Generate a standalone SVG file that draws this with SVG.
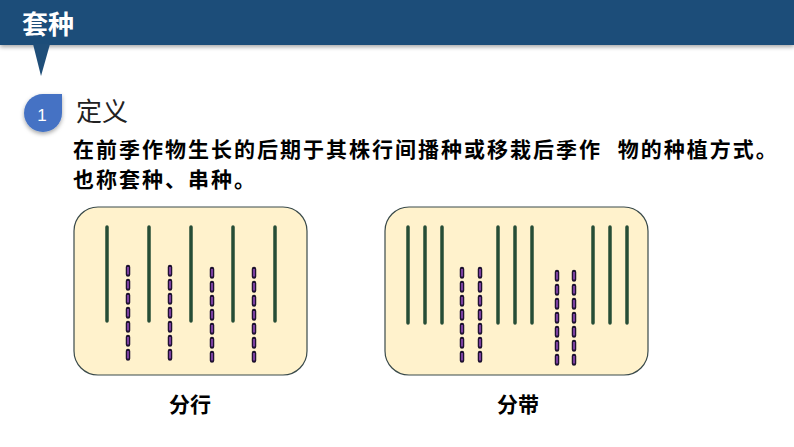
<svg xmlns="http://www.w3.org/2000/svg" width="794" height="447" viewBox="0 0 794 447">
<style>
.cn{font-family:"Liberation Sans","Noto Sans CJK SC",sans-serif}
.box{fill:#fff2cc;stroke:#3a4a4a;stroke-width:1.2}
.g{stroke:#264d36;stroke-width:3.5;stroke-linecap:round}
.d1{stroke:#1e1230;stroke-width:4.5;stroke-dasharray:7.5 6.5;stroke-linecap:round}
.d2{stroke:#7a3fa0;stroke-width:2;stroke-dasharray:7.5 6.5}
</style>
<defs><filter id="sh" x="-20%" y="-20%" width="140%" height="160%"><feDropShadow dx="0" dy="2" stdDeviation="2" flood-opacity="0.35"/></filter></defs>
<rect width="794" height="447" fill="#fff"/>
<g id="header">
<rect x="0" y="0" width="794" height="45" fill="#1f4e79" filter="url(#sh)"/>
<polygon points="33,44 50,44 41,76" fill="#1f4e79"/>
<text x="22" y="34" class="cn" font-size="26" font-weight="bold" fill="#fff">套种</text>
</g>
<g id="section">
<path d="M62,95 V113 A19,19 0 1 1 43,94 H62 Z" fill="#4472c4" filter="url(#sh)"/>
<text x="42" y="121" class="cn" font-size="17" fill="#fff" text-anchor="middle">1</text>
<text x="76" y="121" class="cn" font-size="26" fill="#222">定义</text>
<text x="73" y="157" class="cn" font-size="21" font-weight="bold" letter-spacing="2" fill="#000" xml:space="preserve">在前季作物生长的后期于其株行间播种或移栽后季作  物的种植方式。</text>
<text x="73" y="187" class="cn" font-size="21" font-weight="bold" letter-spacing="2" fill="#000">也称套种、串种。</text>
</g>
<g id="fenhang">
<rect class="box" x="74" y="207" width="233" height="168" rx="24"/>
<g class="g"><line x1="107" y1="227" x2="107" y2="321"/><line x1="149" y1="227" x2="149" y2="321"/><line x1="191" y1="227" x2="191" y2="321"/><line x1="233" y1="227" x2="233" y2="321"/><line x1="275" y1="227" x2="275" y2="321"/></g>
<g class="d1"><line x1="128" y1="267" x2="128" y2="361"/><line x1="170" y1="267" x2="170" y2="361"/><line x1="212" y1="269" x2="212" y2="363"/><line x1="254" y1="269" x2="254" y2="363"/></g>
<g class="d2"><line x1="128" y1="267" x2="128" y2="361"/><line x1="170" y1="267" x2="170" y2="361"/><line x1="212" y1="269" x2="212" y2="363"/><line x1="254" y1="269" x2="254" y2="363"/></g>
<text x="190" y="412" class="cn" font-size="21" font-weight="bold" text-anchor="middle">分行</text>
</g>
<g id="fendai">
<rect class="box" x="385" y="207" width="263" height="168" rx="24"/>
<g class="g"><line x1="408" y1="227" x2="408" y2="323"/><line x1="425" y1="227" x2="425" y2="323"/><line x1="442" y1="227" x2="442" y2="323"/><line x1="498" y1="227" x2="498" y2="323"/><line x1="515" y1="227" x2="515" y2="323"/><line x1="532" y1="227" x2="532" y2="323"/><line x1="593" y1="227" x2="593" y2="323"/><line x1="610" y1="227" x2="610" y2="323"/><line x1="627" y1="227" x2="627" y2="323"/></g>
<g class="d1"><line x1="462" y1="269" x2="462" y2="363"/><line x1="480" y1="269" x2="480" y2="363"/><line x1="557" y1="272" x2="557" y2="366"/><line x1="574" y1="272" x2="574" y2="366"/></g>
<g class="d2"><line x1="462" y1="269" x2="462" y2="363"/><line x1="480" y1="269" x2="480" y2="363"/><line x1="557" y1="272" x2="557" y2="366"/><line x1="574" y1="272" x2="574" y2="366"/></g>
<text x="518" y="412" class="cn" font-size="21" font-weight="bold" text-anchor="middle">分带</text>
</g>
<g id="connectors"/>
</svg>
